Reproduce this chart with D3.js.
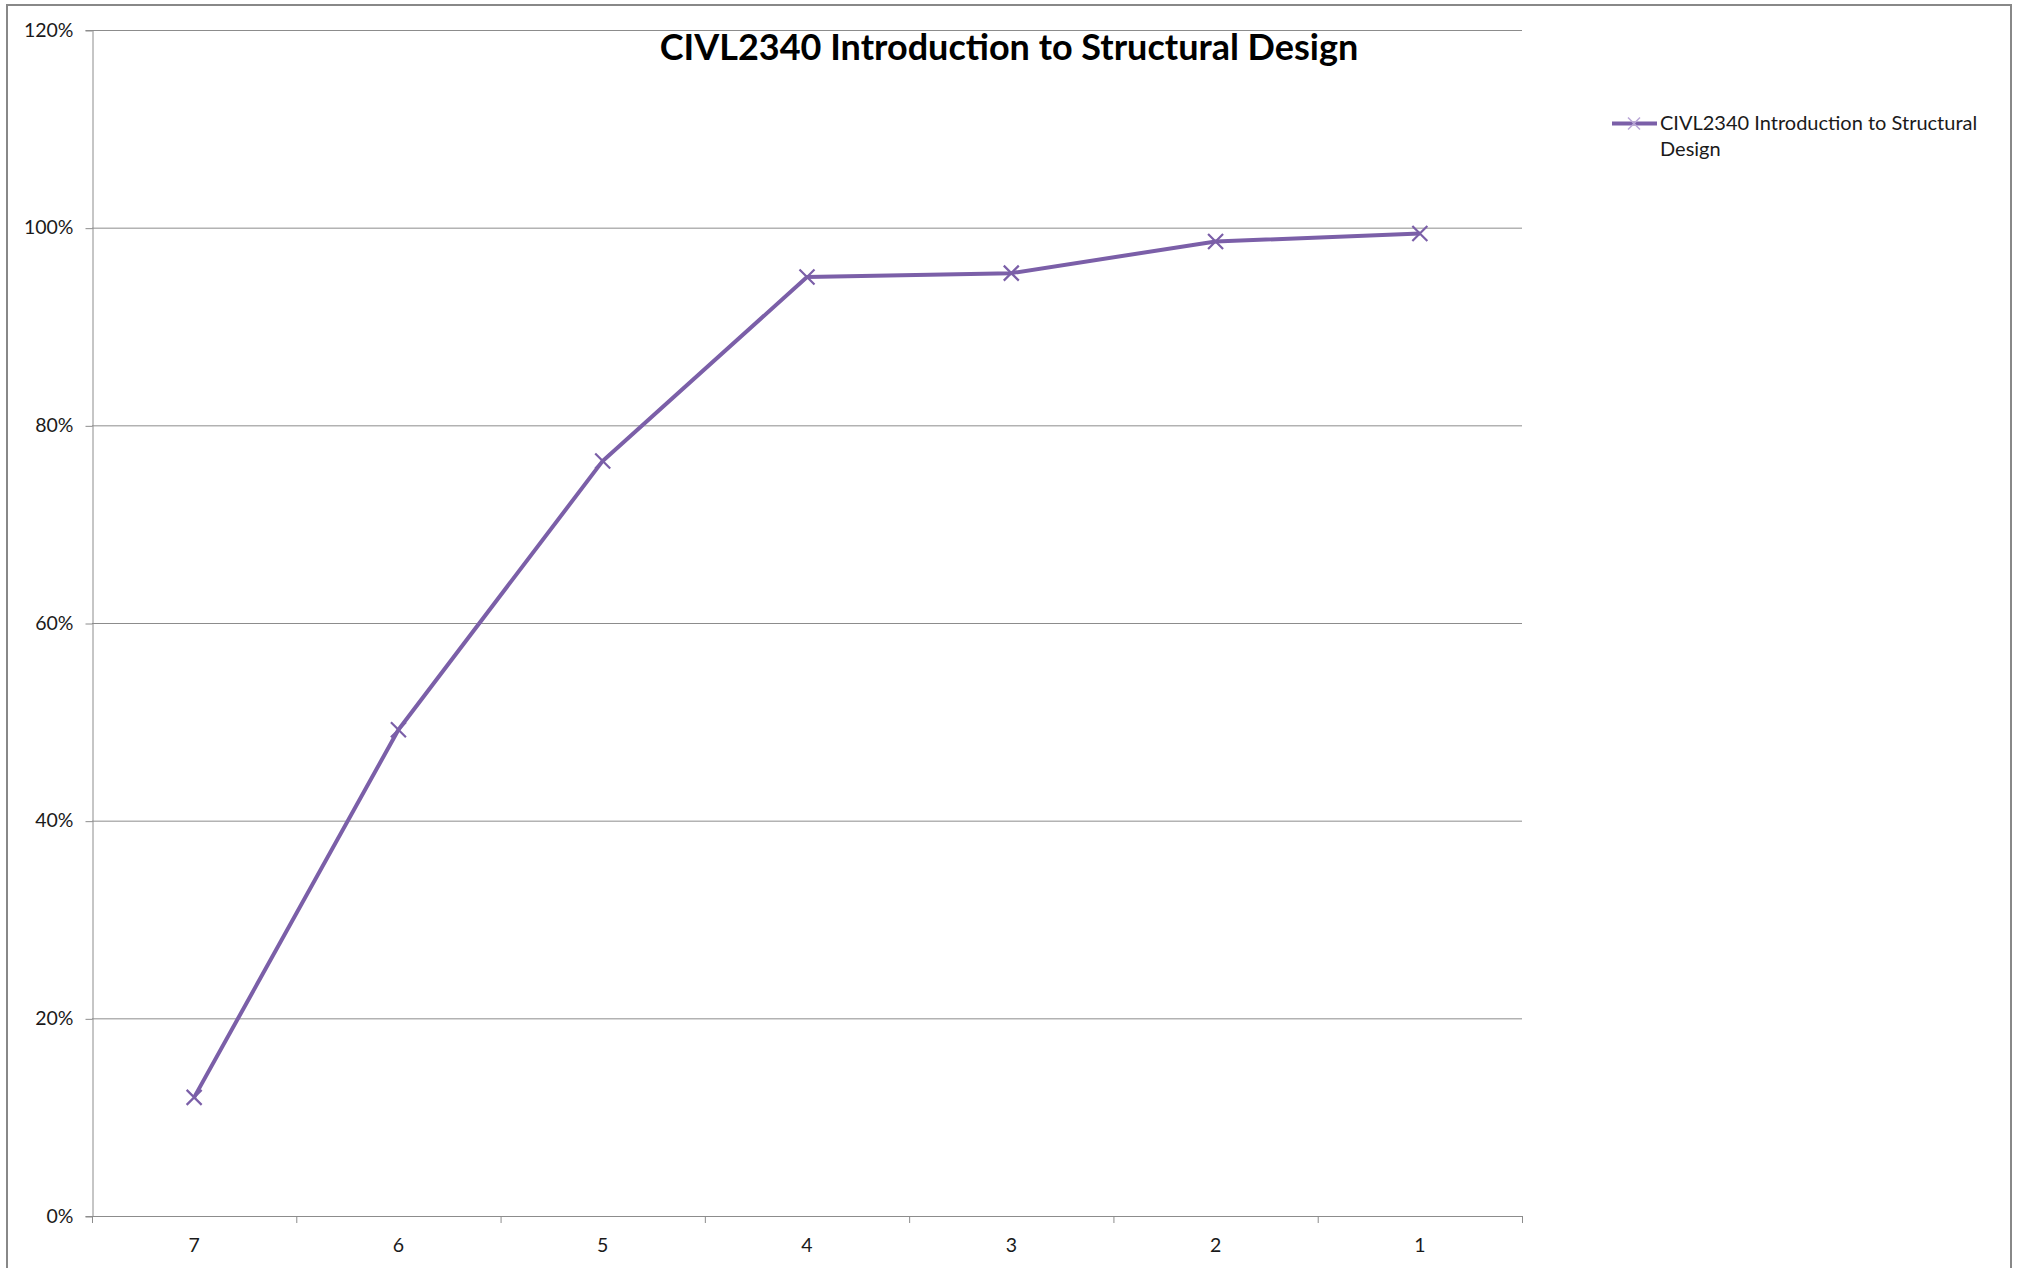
<!DOCTYPE html>
<html><head><meta charset="utf-8">
<script src="https://cdn.jsdelivr.net/npm/d3@7"></script>
<style>body{margin:0;background:#fff;}svg{display:block;}</style>
</head><body>
<script>
const categories = ["7","6","5","4","3","2","1"];
const values = [0.12, 0.492, 0.764, 0.950, 0.954, 0.986, 0.994];
const yTicks = [0, 0.2, 0.4, 0.6, 0.8, 1.0, 1.2];
const seriesName = "CIVL2340 Introduction to Structural Design";
const title = "CIVL2340 Introduction to Structural Design";

const W = 2018, H = 1268;
const svg = d3.select("body").append("svg").attr("width", W).attr("height", H);
svg.append("rect").attr("x", 7).attr("y", 5).attr("width", 2004).attr("height", 1280)
  .attr("fill", "#fff").attr("stroke", "#888").attr("stroke-width", 2);

const L = 92, R = 1522, T = 30, B = 1216;
const x = d3.scaleBand().domain(categories).range([L, R]);
const y = d3.scaleLinear().domain([0, 1.2]).range([B, T]);
const font = "Lato, 'Open Sans', sans-serif";

// gridlines
svg.append("g").selectAll("line").data(yTicks.filter(d => d > 0)).join("line")
  .attr("x1", L).attr("x2", R).attr("y1", d => y(d) + 0.5).attr("y2", d => y(d) + 0.5)
  .attr("stroke", "#8c8c8c").attr("stroke-width", 1);

// y axis
const yAxis = svg.append("g").attr("transform", `translate(${L + 0.5},0)`)
  .call(d3.axisLeft(y).tickValues(yTicks).tickFormat(d3.format(".0%")).tickSize(7).tickPadding(12));
yAxis.select(".domain").attr("stroke", "#8c8c8c");
yAxis.selectAll(".tick line").attr("stroke", "#8c8c8c").attr("transform", "translate(0,0.5)");
yAxis.selectAll("text").attr("font-family", font).attr("font-size", 19.5).attr("fill", "#1a1a1a");

// x axis
const xAxis = svg.append("g").attr("transform", `translate(0,${B + 0.5})`)
  .call(d3.axisBottom(x).tickSize(0).tickPadding(22));
xAxis.select(".domain").attr("stroke", "#8c8c8c").attr("d", `M${L},0H${R}`);
xAxis.selectAll("text").attr("font-family", font).attr("font-size", 19.5).attr("fill", "#1a1a1a");
const bounds = categories.map(c => x(c)).concat([R]);
svg.append("g").selectAll("line").data(bounds).join("line")
  .attr("x1", d => d + 0.5).attr("x2", d => d + 0.5).attr("y1", B).attr("y2", B + 7)
  .attr("stroke", "#8c8c8c");

// line
const color = "#7b5fa8";
const cx = (d, i) => x(categories[i]) + x.bandwidth() / 2;
svg.append("path").datum(values)
  .attr("d", d3.line().x(cx).y(d => y(d)))
  .attr("fill", "none").attr("stroke", color).attr("stroke-width", 4).attr("stroke-linejoin", "round");

const m = 7.5;
svg.append("g").selectAll("path").data(values).join("path")
  .attr("d", (d, i) => { const px = cx(d, i), py = y(d); return `M${px-m},${py-m}L${px+m},${py+m}M${px-m},${py+m}L${px+m},${py-m}`; })
  .attr("stroke", color).attr("stroke-width", 2.2).attr("fill", "none");

// title
svg.append("text").attr("x", 1009).attr("y", 60).attr("text-anchor", "middle")
  .attr("font-family", font).attr("font-weight", "bold").attr("font-size", 36).attr("fill", "#000")
  .text(title);

// legend
const ly = 123.5;
svg.append("line").attr("x1", 1612).attr("x2", 1657).attr("y1", ly).attr("y2", ly)
  .attr("stroke", color).attr("stroke-width", 4);
svg.append("path").attr("d", `M${1634-6},${ly-6}L${1634+6},${ly+6}M${1634-6},${ly+6}L${1634+6},${ly-6}`)
  .attr("stroke", "#b9a6d6").attr("stroke-width", 1.5);
const words = seriesName.split(" ");
const lt = svg.append("text").attr("font-family", font).attr("font-size", 20).attr("fill", "#1a1a1a");
lt.append("tspan").attr("x", 1660).attr("y", 130).text(words.slice(0, 4).join(" "));
lt.append("tspan").attr("x", 1660).attr("y", 156).text(words.slice(4).join(" "));
</script>
</body></html>
